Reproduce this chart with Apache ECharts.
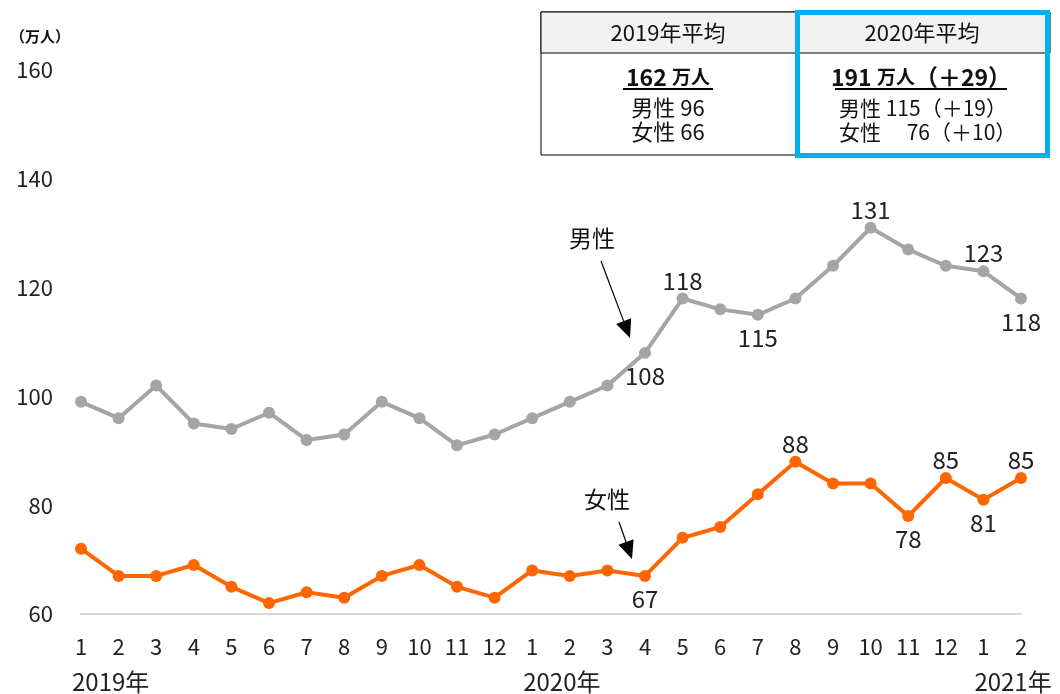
<!DOCTYPE html>
<html>
  <head>
    <meta charset="UTF-8">
    <title>男女別推移</title>
    <script src="https://cdn.jsdelivr.net/npm/echarts@6/dist/echarts.min.js"></script>
    <style>
    * {
      margin: 0;
      padding: 0;
    }
    </style>
  </head>
  <body>
    <div id="main" style="width: 1060px;height: 694px"></div>
    <script>
// 月ラベル (2019/1 〜 2021/2)
var months = ['1', '2', '3', '4', '5', '6', '7', '8', '9', '10', '11', '12',
  '1', '2', '3', '4', '5', '6', '7', '8', '9', '10', '11', '12', '1', '2']
var years = ['2019', '2019', '2019', '2019', '2019', '2019', '2019', '2019', '2019', '2019', '2019', '2019',
  '2020', '2020', '2020', '2020', '2020', '2020', '2020', '2020', '2020', '2020', '2020', '2020', '2021', '2021']
var male = [99, 96, 102, 95, 94, 97, 92, 93, 99, 96, 91, 93,
  96, 99, 102, 108, 118, 116, 115, 118, 124, 131, 127, 124, 123, 118]
var female = [72, 67, 67, 69, 65, 62, 64, 63, 67, 69, 65, 63,
  68, 67, 68, 67, 74, 76, 82, 88, 84, 84, 78, 85, 81, 85]
// ラベルを出す点: index -> 位置
var maleLabels = { 15: 'bottom', 16: 'top', 18: 'bottom', 21: 'top', 24: 'top', 25: 'bottom' }
var femaleLabels = { 15: 'bottom', 19: 'top', 22: 'bottom', 23: 'top', 24: 'bottom', 25: 'top' }

var FONT = '"Noto Sans CJK JP", "Noto Sans", sans-serif'
var categories = months.map(function (m, i) { return years[i] + '-' + m })

function withLabels(values, labels) {
  return values.map(function (v, i) {
    if (!labels[i]) return v
    return {
      value: v,
      label: {
        show: true,
        position: labels[i],
        distance: labels[i] === 'top' ? 0 : 5,
        fontSize: 24,
        color: '#222',
        fontFamily: FONT
      }
    }
  })
}

function arrow(x1, y1, x2, y2) {
  var ang = Math.atan2(y2 - y1, x2 - x1)
  var len = 18, half = 8
  var bx = x2 - len * Math.cos(ang), by = y2 - len * Math.sin(ang)
  var px = -Math.sin(ang) * half, py = Math.cos(ang) * half
  return [{
    type: 'line',
    shape: { x1: x1, y1: y1, x2: bx, y2: by },
    style: { stroke: '#000', lineWidth: 1.2 }
  }, {
    type: 'polygon',
    shape: { points: [[x2, y2], [bx + px, by + py], [bx - px, by - py]] },
    style: { fill: '#000' }
  }]
}

function txt(x, y, text, size, weight, rich) {
  return {
    type: 'text', x: x, y: y,
    style: {
      text: text, fontSize: size, fontWeight: weight || 'normal', fontFamily: FONT,
      fill: '#111', align: 'center', verticalAlign: 'middle', rich: rich
    }
  }
}

var richBold = {
  b: { fontSize: 23, fontWeight: 'bold', fontFamily: FONT, fill: '#111' },
  s: { fontSize: 19, fontWeight: 'bold', fontFamily: FONT, fill: '#111' }
}

var graphics = [
  txt(40, 36, '（万人）', 15, 'bold'),
  // 2019年 table
  { type: 'rect', shape: { x: 541, y: 12, width: 256, height: 143 }, style: { fill: '#fff', stroke: '#000', lineWidth: 1 } },
  { type: 'rect', shape: { x: 541, y: 12, width: 509, height: 41 }, style: { fill: '#f2f2f2', stroke: '#000', lineWidth: 1 } },
  txt(668, 33, '2019年平均', 22),
  txt(668, 77, '{b|162} {s|万人}', 23, 'bold', richBold),
  { type: 'line', shape: { x1: 623, y1: 89, x2: 713, y2: 89 }, style: { stroke: '#000', lineWidth: 2 } },
  txt(668, 108, '男性 96', 22),
  txt(668, 132, '女性 66', 22),
  // 2020年 table
  txt(922, 33, '2020年平均', 22),
  txt(921, 77, '{b|191} {s|万人}{b|（＋29）}', 23, 'bold', richBold),
  { type: 'line', shape: { x1: 835, y1: 89, x2: 1007, y2: 89 }, style: { stroke: '#000', lineWidth: 2 } },
  { type: 'text', x: 839, y: 108, style: { text: '男性 115（＋19）', fontSize: 21, fontFamily: FONT, fill: '#111', align: 'left', verticalAlign: 'middle' } },
  { type: 'text', x: 839, y: 132, style: { text: '女性　 76（＋10）', fontSize: 21, fontFamily: FONT, fill: '#111', align: 'left', verticalAlign: 'middle' } },
  { type: 'rect', shape: { x: 797.5, y: 12.5, width: 250, height: 143 }, style: { fill: 'none', stroke: '#00b0f0', lineWidth: 5 } },
  // annotations
  txt(592, 238, '男性', 23),
  txt(607, 499, '女性', 23)
].concat(arrow(601, 261, 630, 338)).concat(arrow(619, 522, 632, 559))

var myChart = echarts.init(document.getElementById('main'))
myChart.setOption({
  backgroundColor: '#fff',
  animation: false,
  grid: { left: 81, right: 39, top: 70, bottom: 80 },
  xAxis: [{
    type: 'category',
    data: categories,
    boundaryGap: false,
    axisLine: { lineStyle: { color: '#d9d9d9', width: 2 } },
    axisTick: { show: false },
    axisLabel: {
      interval: 0, margin: 22, fontSize: 22, color: '#222', fontFamily: FONT,
      formatter: function (v) { return v.split('-')[1] }
    }
  }, {
    type: 'category',
    data: categories,
    boundaryGap: false,
    position: 'bottom',
    axisLine: { show: false },
    axisTick: { show: false },
    axisLabel: {
      interval: 0, margin: 56, fontSize: 24, color: '#222', fontFamily: FONT,
      align: 'left', padding: [0, 0, 0, -9],
      formatter: function (v) {
        var p = v.split('-')
        return p[1] === '1' ? p[0] + '年' : ''
      }
    }
  }],
  yAxis: {
    type: 'value',
    min: 60, max: 160, interval: 20,
    axisLine: { show: false },
    axisTick: { show: false },
    splitLine: { show: false },
    axisLabel: { margin: 28, fontSize: 22, color: '#222', fontFamily: FONT }
  },
  series: [{
    name: '男性',
    type: 'line',
    data: withLabels(male, maleLabels),
    symbol: 'circle', symbolSize: 12,
    lineStyle: { color: '#a5a5a5', width: 4 },
    itemStyle: { color: '#a5a5a5' }
  }, {
    name: '女性',
    type: 'line',
    data: withLabels(female, femaleLabels),
    symbol: 'circle', symbolSize: 12,
    lineStyle: { color: '#ff6600', width: 4 },
    itemStyle: { color: '#ff6600' }
  }],
  graphic: graphics
})
    </script>
  </body>
</html>
